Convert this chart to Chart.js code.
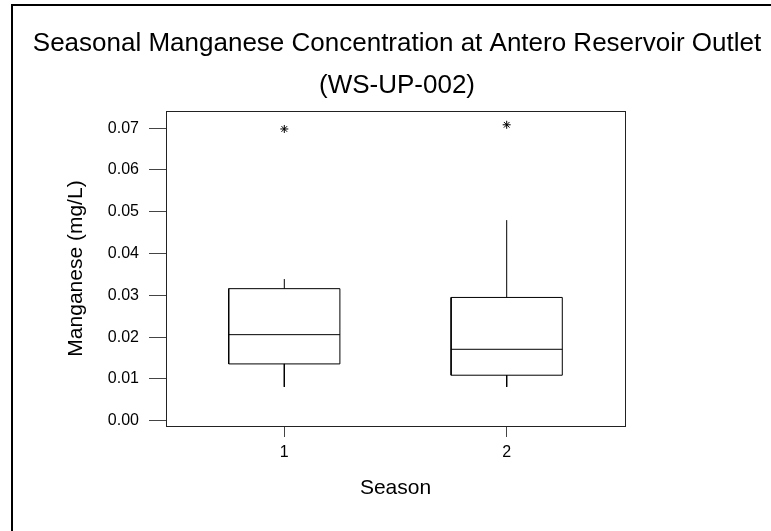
<!DOCTYPE html>
<html>
<head>
<meta charset="utf-8">
<script src="https://cdn.jsdelivr.net/npm/chart.js@4/dist/chart.umd.min.js"></script>
<style>
  html, body { margin: 0; padding: 0; background: #ffffff; }
  #wrap { width: 771px; height: 531px; position: relative; }
</style>
</head>
<body>
<div id="wrap"><canvas id="c" width="771" height="531"></canvas></div>
<script>
// ---- data ----
const seasons      = [1, 2];
const whiskerLow   = [0.0081, 0.0081];
const quartile1    = [0.0136, 0.0109];
const medians      = [0.0206, 0.0171];
const quartile3    = [0.0316, 0.0295];
const whiskerHigh  = [0.0339, 0.0480];
const outliers     = [0.0698, 0.0708];
const yTickValues  = [0.00, 0.01, 0.02, 0.03, 0.04, 0.05, 0.06, 0.07];
const titleLines   = ['Seasonal Manganese Concentration at Antero Reservoir Outlet', '(WS-UP-002)'];
const xTitle       = 'Season';
const yTitle       = 'Manganese (mg/L)';

const HALF = 0.25; // half box width in season units
const FONT = "'Liberation Sans', Arial, sans-serif";

const boxPts = [], medPts = [], whiskPts = [], outPts = [];
seasons.forEach((s, i) => {
  boxPts.push({x: s - HALF, y: quartile1[i]}, {x: s + HALF, y: quartile1[i]},
              {x: s + HALF, y: quartile3[i]}, {x: s - HALF, y: quartile3[i]},
              {x: s - HALF, y: quartile1[i]}, {x: s + 0.5, y: null});
  medPts.push({x: s - HALF, y: medians[i]}, {x: s + HALF, y: medians[i]}, {x: s + 0.5, y: null});
  whiskPts.push({x: s, y: quartile3[i]}, {x: s, y: whiskerHigh[i]}, {x: s + 0.1, y: null},
                {x: s, y: quartile1[i]}, {x: s, y: whiskerLow[i]}, {x: s + 0.2, y: null});
  outPts.push({x: s, y: outliers[i]});
});

const framePlugin = {
  id: 'frame',
  beforeDraw(chart) {
    const ctx = chart.ctx;
    ctx.save();
    ctx.fillStyle = '#ffffff';
    ctx.fillRect(0, 0, chart.width, chart.height);
    ctx.strokeStyle = '#000000';
    ctx.lineWidth = 2;
    ctx.beginPath();
    ctx.moveTo(12, chart.height);
    ctx.lineTo(12, 5);
    ctx.lineTo(chart.width, 5);
    ctx.stroke();
    ctx.restore();
  },
  afterDatasetsDraw(chart) {
    const a = chart.chartArea, ctx = chart.ctx;
    ctx.save();
    ctx.strokeStyle = '#222222';
    ctx.lineWidth = 1;
    ctx.strokeRect(Math.round(a.left) + 0.5, Math.round(a.top) + 0.5,
                   Math.round(a.right - a.left), Math.round(a.bottom - a.top));
    ctx.restore();
  }
};

const lineDs = (data) => ({
  data, showLine: true, borderColor: '#000000', borderWidth: 1,
  pointRadius: 0, pointHoverRadius: 0, spanGaps: false, tension: 0, fill: false
});

new Chart(document.getElementById('c'), {
  type: 'scatter',
  data: {
    datasets: [
      lineDs(boxPts),
      lineDs(medPts),
      lineDs(whiskPts),
      { data: outPts, pointStyle: 'star', pointRadius: 4, borderColor: '#000000',
        backgroundColor: '#000000', borderWidth: 1, showLine: false }
    ]
  },
  options: {
    responsive: false,
    animation: false,
    events: [],
    layout: { padding: { top: 23, left: 23, right: 0, bottom: 30 } },
    plugins: {
      legend: { display: false },
      tooltip: { enabled: false },
      title: {
        display: true, text: titleLines, color: '#000000',
        font: { family: FONT, size: 26, weight: 'normal', lineHeight: 42 / 26 },
        padding: { top: 0, bottom: 4 }
      }
    },
    scales: {
      x: {
        type: 'linear', position: 'bottom', min: 0.468, max: 2.532,
        afterBuildTicks: (sc) => { sc.ticks = seasons.map(v => ({ value: v })); },
        afterFit: (sc) => { sc.height = 75; },
        ticks: { color: '#000000', font: { family: FONT, size: 16 }, padding: 6,
                 callback: (v) => String(v) },
        grid: { display: true, drawOnChartArea: false, drawTicks: true, tickLength: 11,
                color: '#444444', lineWidth: 1 },
        border: { display: false },
        title: { display: true, text: xTitle, color: '#000000',
                 font: { family: FONT, size: 21 }, padding: { top: 0, bottom: 0 } }
      },
      y: {
        type: 'linear', position: 'left', min: -0.00125, max: 0.0741,
        afterBuildTicks: (sc) => { sc.ticks = yTickValues.map(v => ({ value: v })); },
        afterFit: (sc) => { sc.width = 143; },
        ticks: { color: '#000000', font: { family: FONT, size: 16 }, padding: 10,
                 callback: (v) => Number(v).toFixed(2) },
        grid: { display: true, drawOnChartArea: false, drawTicks: true, tickLength: 17,
                color: '#444444', lineWidth: 1 },
        border: { display: false },
        title: { display: true, text: yTitle, color: '#000000',
                 font: { family: FONT, size: 21 }, padding: { top: 41, bottom: 0 } }
      },
      yRight: {
        type: 'linear', position: 'right', display: true,
        afterFit: (sc) => { sc.width = 146; },
        ticks: { display: false },
        grid: { display: false },
        border: { display: false }
      }
    }
  },
  plugins: [framePlugin]
});
</script>
</body>
</html>
